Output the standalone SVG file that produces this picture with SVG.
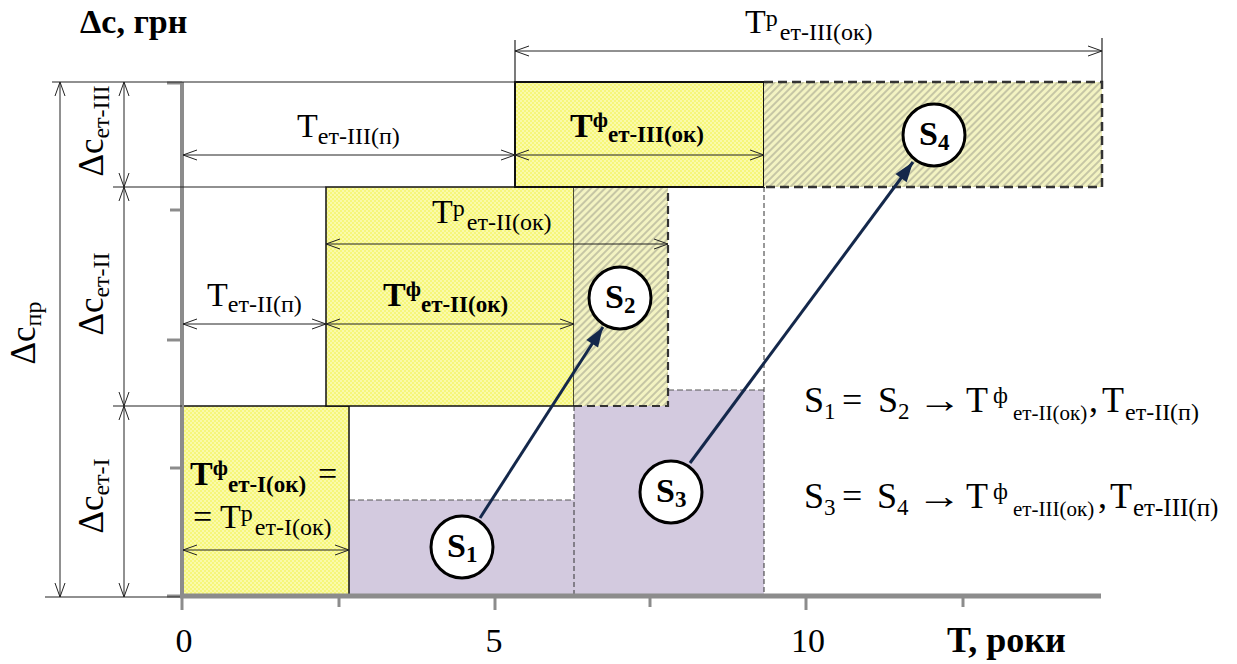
<svg xmlns="http://www.w3.org/2000/svg" width="1237" height="664" viewBox="0 0 1237 664">
<style>
.t{font-family:"Liberation Serif","Times New Roman",serif;fill:#000}
.b{font-weight:bold}
.dim{stroke:#222;stroke-width:1;fill:none}
.ext{stroke:#222;stroke-width:1.2;fill:none}
.ax{stroke:#8c8c8c;fill:none}
.conn{stroke:#14284B;stroke-width:3;fill:none}
.circ{fill:#fff;stroke:#000;stroke-width:3}
</style>
<defs>
<pattern id="yel" width="4" height="4" patternUnits="userSpaceOnUse">
<rect width="4" height="4" fill="#F6F67A"/>
<rect width="2" height="2" fill="#FAFAAA"/>
<rect x="2" y="2" width="2" height="2" fill="#FAFAAA"/>
</pattern>
<pattern id="hatch" width="5" height="5" patternUnits="userSpaceOnUse" patternTransform="rotate(45)">
<rect width="5" height="5" fill="#F3F3C2"/>
<line x1="1" y1="0" x2="1" y2="5" stroke="#9a9a88" stroke-width="1"/>
</pattern>
<marker id="open" viewBox="-15 -6 16 12" refX="0" refY="0" markerWidth="16" markerHeight="12" markerUnits="userSpaceOnUse" orient="auto-start-reverse">
<path d="M-14,-5 L0,0 L-14,5" fill="none" stroke="#222" stroke-width="1"/>
</marker>
<marker id="solid" viewBox="-21 -8 22 16" refX="0" refY="0" markerWidth="22" markerHeight="16" markerUnits="userSpaceOnUse" orient="auto">
<path d="M-20,-7 L0,0 L-20,7 Z" fill="#14284B"/>
</marker>
</defs>
<rect width="1237" height="664" fill="#fff"/>

<!-- regions -->
<g id="purple-1"><rect x="349" y="500" width="225" height="97" fill="#D3CADF"/><line x1="349" y1="500" x2="574" y2="500" stroke="#555" stroke-width="1" stroke-dasharray="6,3"/></g>
<g id="purple-2"><rect x="574" y="390" width="190" height="207" fill="#D3CADF"/><line x1="668" y1="390" x2="764" y2="390" stroke="#555" stroke-width="1" stroke-dasharray="6,3"/></g>
<g id="stage-1"><rect x="182" y="406" width="167" height="191" fill="url(#yel)" stroke="#111" stroke-width="1.5"/></g>
<g id="stage-2"><rect x="326" y="187" width="248" height="219" fill="url(#yel)" stroke="#111" stroke-width="1.5"/></g>
<g id="hatch-2"><rect x="574" y="187" width="94" height="219" fill="url(#hatch)"/><path d="M574,406 H668 V187" fill="none" stroke="#333" stroke-width="2.2" stroke-dasharray="8,5"/></g>
<g id="stage-3"><rect x="515" y="82" width="249" height="105" fill="url(#yel)" stroke="#111" stroke-width="2"/></g>
<g id="hatch-3"><rect x="764" y="82" width="338" height="105" fill="url(#hatch)"/><path d="M764,82 H1102 V187 H764" fill="none" stroke="#333" stroke-width="2.5" stroke-dasharray="9,5"/></g>

<!-- dashed guides -->
<g id="guides">
<line x1="764" y1="187" x2="764" y2="597" stroke="#333" stroke-width="1" stroke-dasharray="5,3"/>
<line x1="574" y1="406" x2="574" y2="597" stroke="#333" stroke-width="1" stroke-dasharray="5,3"/>
</g>

<!-- axes -->
<g id="axes">
<line class="ax" x1="182" y1="82" x2="182" y2="597" stroke-width="4"/>
<line class="ax" x1="180" y1="596" x2="1101" y2="596" stroke-width="5"/>
<g stroke="#8c8c8c" stroke-width="3">
<line x1="167" y1="83" x2="182" y2="83"/>
<line x1="170" y1="210" x2="182" y2="210"/>
<line x1="167" y1="340" x2="182" y2="340"/>
<line x1="170" y1="468" x2="182" y2="468"/>
<line x1="167" y1="596" x2="182" y2="596"/>
<line x1="182" y1="596" x2="182" y2="610"/>
<line x1="339" y1="596" x2="339" y2="607"/>
<line x1="495" y1="596" x2="495" y2="610"/>
<line x1="650" y1="596" x2="650" y2="607"/>
<line x1="806" y1="596" x2="806" y2="610"/>
<line x1="963" y1="596" x2="963" y2="607"/>
</g>
</g>

<!-- extension and dimension lines -->
<g id="connectors">
<line class="ext" x1="52" y1="82" x2="515" y2="82"/>
<line class="ext" x1="113" y1="187" x2="326" y2="187"/>
<line class="ext" x1="113" y1="406" x2="182" y2="406"/>
<line class="ext" x1="45" y1="597" x2="180" y2="597"/>
<line class="ext" x1="515" y1="40" x2="515" y2="82"/>
<line class="ext" x1="1102" y1="38" x2="1102" y2="82"/>

<line class="dim" x1="60" y1="82" x2="60" y2="597" marker-start="url(#open)" marker-end="url(#open)"/>
<line class="dim" x1="124" y1="82" x2="124" y2="187" marker-start="url(#open)" marker-end="url(#open)"/>
<line class="dim" x1="124" y1="187" x2="124" y2="406" marker-start="url(#open)" marker-end="url(#open)"/>
<line class="dim" x1="124" y1="406" x2="124" y2="597" marker-start="url(#open)" marker-end="url(#open)"/>

<line class="dim" x1="515" y1="51" x2="1102" y2="51" marker-start="url(#open)" marker-end="url(#open)"/>
<line class="dim" x1="183" y1="155" x2="515" y2="155" marker-start="url(#open)" marker-end="url(#open)"/>
<line class="dim" x1="515" y1="155" x2="764" y2="155" marker-start="url(#open)" marker-end="url(#open)"/>
<line class="dim" x1="326" y1="244" x2="668" y2="244" marker-start="url(#open)" marker-end="url(#open)"/>
<line class="dim" x1="183" y1="324" x2="326" y2="324" marker-start="url(#open)" marker-end="url(#open)"/>
<line class="dim" x1="326" y1="324" x2="574" y2="324" marker-start="url(#open)" marker-end="url(#open)"/>
<line class="dim" x1="183" y1="550" x2="349" y2="550" marker-start="url(#open)" marker-end="url(#open)"/>

<line class="conn" x1="480" y1="518" x2="603" y2="327" marker-end="url(#solid)"/>
<line class="conn" x1="690" y1="463" x2="913" y2="162" marker-end="url(#solid)"/>
</g>

<!-- S nodes -->
<g id="S1"><circle class="circ" cx="462" cy="547" r="31"/><text class="t b" x="447" y="557" font-size="34">S<tspan font-size="23" dy="5">1</tspan></text></g>
<g id="S2"><circle class="circ" cx="620" cy="298" r="31"/><text class="t b" x="605" y="308" font-size="34">S<tspan font-size="23" dy="5">2</tspan></text></g>
<g id="S3"><circle class="circ" cx="671" cy="492" r="31"/><text class="t b" x="656" y="502" font-size="34">S<tspan font-size="23" dy="5">3</tspan></text></g>
<g id="S4"><circle class="circ" cx="934" cy="135" r="31"/><text class="t b" x="919" y="145" font-size="34">S<tspan font-size="23" dy="5">4</tspan></text></g>

<!-- axis labels -->
<g id="axis-labels">
<text class="t b" x="80" y="33" font-size="34">Δc, грн</text>
<text class="t b" x="947" y="652" font-size="36">T, роки</text>
<text class="t" x="184" y="652" font-size="34" text-anchor="middle">0</text>
<text class="t" x="494" y="652" font-size="34" text-anchor="middle">5</text>
<text class="t" x="808" y="652" font-size="34" text-anchor="middle">10</text>
</g>

<!-- vertical labels -->
<g id="v-labels">
<text class="t" transform="translate(35,333) rotate(-90)" text-anchor="middle" font-size="35">Δc<tspan font-size="24" dy="6">пр</tspan></text>
<text class="t" transform="translate(103,131) rotate(-90)" text-anchor="middle" font-size="35">Δc<tspan font-size="24" dy="6">ет-III</tspan></text>
<text class="t" transform="translate(103,294) rotate(-90)" text-anchor="middle" font-size="35">Δc<tspan font-size="24" dy="6">ет-II</tspan></text>
<text class="t" transform="translate(103,496) rotate(-90)" text-anchor="middle" font-size="35">Δc<tspan font-size="24" dy="6">ет-I</tspan></text>
</g>

<!-- dimension labels -->
<g id="dim-labels">
<text class="t" x="745" y="33" font-size="34">T<tspan font-size="24" dy="-7">р</tspan><tspan font-size="24" dy="14" dx="2">ет-III(ок)</tspan></text>
<text class="t" x="297" y="137" font-size="34">T<tspan font-size="24" dy="7">ет-III(п)</tspan></text>
<text class="t b" x="570" y="137" font-size="34">T<tspan font-size="22" dy="-10">ф</tspan><tspan font-size="23" dy="15">ет-III(ок)</tspan></text>
<text class="t" x="432" y="223" font-size="34">T<tspan font-size="24" dy="-7">р</tspan><tspan font-size="24" dy="14" dx="2">ет-II(ок)</tspan></text>
<text class="t" x="207" y="306" font-size="34">T<tspan font-size="24" dy="6">ет-II(п)</tspan></text>
<text class="t b" x="383" y="306" font-size="34">T<tspan font-size="22" dy="-10">ф</tspan><tspan font-size="23" dy="16">ет-II(ок)</tspan></text>
<text class="t b" x="190" y="485" font-size="34">T<tspan font-size="22" dy="-10">ф</tspan><tspan font-size="23" dy="17">ет-I(ок)</tspan><tspan class="t" font-weight="normal" font-size="34" dy="-7" x="318">=</tspan></text>
<text class="t" x="193" y="528" font-size="34">= T<tspan font-size="24" dy="-7">р</tspan><tspan font-size="24" dy="14" dx="2">ет-I(ок)</tspan></text>
</g>

<!-- formulas -->
<g id="formulas">
<text class="t" x="804" y="412" font-size="36">S</text>
<text class="t" x="824" y="419" font-size="23">1</text>
<text class="t" x="842" y="412" font-size="36">=</text>
<text class="t" x="878" y="412" font-size="36">S</text>
<text class="t" x="898" y="419" font-size="23">2</text>
<text class="t" x="918" y="412" font-size="36" textLength="44" lengthAdjust="spacingAndGlyphs">→</text>
<text class="t" x="966" y="412" font-size="36">T</text>
<text class="t" x="993" y="403" font-size="23">ф</text>
<text class="t" x="1013" y="420" font-size="21">ет-II(ок)<tspan x="1089" y="412" font-size="36">,</tspan><tspan x="1102" y="412" font-size="36">T</tspan><tspan x="1125" y="420" font-size="24">ет-II(п)</tspan></text>

<text class="t" x="804" y="508" font-size="36">S</text>
<text class="t" x="824" y="515" font-size="23">3</text>
<text class="t" x="842" y="508" font-size="36">=</text>
<text class="t" x="877" y="508" font-size="36">S</text>
<text class="t" x="897" y="515" font-size="23">4</text>
<text class="t" x="917" y="508" font-size="36" textLength="45" lengthAdjust="spacingAndGlyphs">→</text>
<text class="t" x="966" y="508" font-size="36">T</text>
<text class="t" x="993" y="499" font-size="23">ф</text>
<text class="t" x="1013" y="516" font-size="21">ет-III(ок)<tspan x="1098" y="508" font-size="36">,</tspan><tspan x="1110" y="508" font-size="36">T</tspan><tspan x="1133" y="516" font-size="25">ет-III(п)</tspan></text>
</g>
</svg>
